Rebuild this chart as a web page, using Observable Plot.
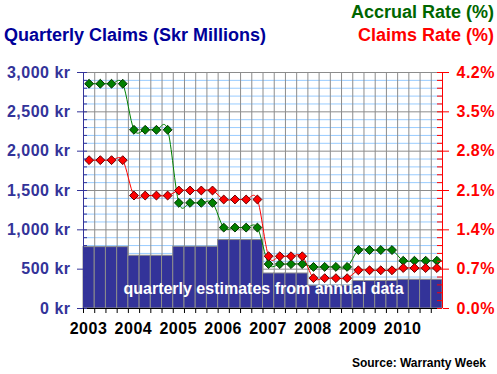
<!DOCTYPE html>
<html><head><meta charset="utf-8">
<script src="https://cdn.jsdelivr.net/npm/d3@7"></script>
<script src="https://cdn.jsdelivr.net/npm/@observablehq/plot@0.6"></script>
<style>
body{margin:0;background:#fff;}
#chart svg{display:block;}
#chart svg text{font-family:"Liberation Sans",Arial,Helvetica,sans-serif;}
#chart svg g[aria-label$="tick label"] text{letter-spacing:0.5px;}
</style></head><body><div id="chart"></div>
<script>
// ---- data ----
const years = [2003, 2004, 2005, 2006, 2007, 2008, 2009, 2010];
const quarterNames = ["Q1", "Q2", "Q3", "Q4"];
// quarterly claims, Skr millions (quarterly estimates from annual data)
const claimsKr = [
  780, 780, 780, 780,
  670, 670, 670, 670,
  785, 785, 785, 785,
  870, 870, 870, 870,
  445, 445, 445, 445,
  290, 290, 290, 290,
  350, 350, 350, 350,
  365, 365, 365, 365
];
// accrual rate, %
const accrualRate = [
  4.00, 4.00, 4.00, 4.00,
  3.18, 3.18, 3.18, 3.18,
  1.88, 1.88, 1.88, 1.88,
  1.44, 1.44, 1.44, 1.44,
  0.79, 0.79, 0.79, 0.79,
  0.74, 0.74, 0.74, 0.74,
  1.04, 1.04, 1.04, 1.04,
  0.85, 0.85, 0.85, 0.85
];
// claims rate, %
const claimsRate = [
  2.64, 2.64, 2.64, 2.64,
  2.01, 2.01, 2.01, 2.01,
  2.10, 2.10, 2.10, 2.10,
  1.94, 1.94, 1.94, 1.94,
  0.93, 0.93, 0.93, 0.93,
  0.54, 0.54, 0.54, 0.54,
  0.68, 0.68, 0.68, 0.68,
  0.72, 0.72, 0.72, 0.72
];
const leftTicks = [0, 500, 1000, 1500, 2000, 2500, 3000];
const rightTickLabels = ["0.0%", "0.7%", "1.4%", "2.1%", "2.8%", "3.5%", "4.2%"];
const maxKr = 3000;
const maxRate = 4.2;
const minorStep = 100;

// ---- build table ----
const quarters = claimsKr.map((c, i) => {
  const y = years[Math.floor(i / 4)], q = i % 4;
  return {label: y + " " + quarterNames[q], x1: y + q / 4, x2: y + (q + 1) / 4, xm: y + (q + 0.5) / 4,
          claims: c, accrual: accrualRate[i], rate: claimsRate[i]};
});
const boundaries = quarters.map(d => d.x1);
const minorTicks = d3.range(0, maxKr + 1, minorStep);
const blueLines = minorTicks.filter(v => v % 500 !== 0);
const toKr = r => r * maxKr / maxRate;

const W = 497, H = 374, mL = 83, mR = 55, mT = 72, mB = 66;
const frameW = W - mL - mR;
const font = {fontSize: 16, fontWeight: "bold"};

const chart = Plot.plot({
  width: W, height: H,
  marginLeft: mL, marginRight: mR, marginTop: mT, marginBottom: mB,
  x: {domain: [years[0], years[years.length - 1] + 1], label: null},
  y: {domain: [0, maxKr], label: null},
  marks: [
    Plot.ruleY(blueLines, {stroke: "#99ccff"}),
    Plot.ruleY(leftTicks, {stroke: "#8c8c8c"}),
    Plot.ruleX(boundaries, {stroke: "#8c8c8c"}),
    Plot.rectY(quarters, {x1: "x1", x2: "x2", y: "claims", fill: "#333399", stroke: "#8c8c8c", strokeWidth: 1}),
    Plot.text(["quarterly estimates from annual data"], {frameAnchor: "bottom", dy: -15, dx: 0.5, fill: "white", fontSize: 16, fontWeight: "bold"}),
    Plot.line(quarters, {x: "xm", y: d => toKr(d.accrual), stroke: "#008000", strokeWidth: 1, curve: "cardinal"}),
    Plot.line(quarters, {x: "xm", y: d => toKr(d.rate), stroke: "#ff0000", strokeWidth: 1, curve: "cardinal"}),
    Plot.dot(quarters, {x: "xm", y: d => toKr(d.accrual), symbol: "diamond2", r: 4, fill: "#008000", stroke: "#003300", strokeWidth: 1}),
    Plot.dot(quarters, {x: "xm", y: d => toKr(d.rate), symbol: "diamond2", r: 4, fill: "#ff0000", stroke: "#660000", strokeWidth: 1}),
    // axis lines
    Plot.ruleY([0], {stroke: "black"}),
    Plot.ruleX([years[0]], {stroke: "#333399"}),
    Plot.ruleX([years[years.length - 1] + 1], {stroke: "#ff0000"}),
    // inward minor ticks
    Plot.ruleY(minorTicks, {stroke: "#333399", insetRight: frameW - 4}),
    Plot.ruleY(minorTicks, {stroke: "#ff0000", insetLeft: frameW - 5}),
    // left axis
    Plot.axisY(leftTicks, {anchor: "left", tickSize: 6, tickPadding: 7, label: null, color: "#333399",
      tickFormat: d => d3.format(",")(d) + " kr", ...font}),
    // right axis
    Plot.axisY(leftTicks, {anchor: "right", tickSize: 6, tickPadding: 8, label: null, color: "#ff0000",
      tickFormat: d => rightTickLabels[leftTicks.indexOf(d)], ...font}),
    // bottom ticks
    Plot.axisX(boundaries, {anchor: "bottom", tickSize: 5, tickFormat: () => "", label: null, color: "black"}),
    Plot.axisX(years, {anchor: "bottom", tickSize: 0, tickPadding: 14, dx: 5, label: null, color: "black",
      tickFormat: d => String(d), ...font})
  ]
});

const svg = d3.select(chart);
const addText = (txt, x, y, anchor, size, color) =>
  svg.append("text").attr("x", x).attr("y", y).attr("text-anchor", anchor)
    .attr("font-size", size).attr("font-weight", "bold").attr("fill", color).text(txt);
addText("Quarterly Claims (Skr Millions)", 4, 41, "start", 18, "#000099");
addText("Accrual Rate (%)", 494, 18, "end", 18, "#006600");
addText("Claims Rate (%)", 494, 41, "end", 18, "#ff0000");
addText("Source: Warranty Week", 486, 366.5, "end", 12, "#000000");

document.getElementById("chart").appendChild(chart);
</script></body></html>
